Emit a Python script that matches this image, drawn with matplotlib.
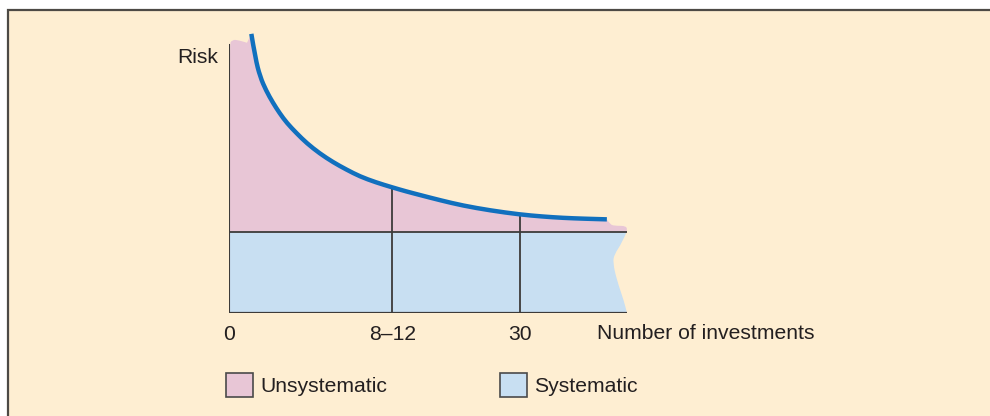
import matplotlib
matplotlib.use("Agg")
import matplotlib.pyplot as plt
from matplotlib.patches import Rectangle, PathPatch, Patch
from matplotlib.path import Path

plt.rcParams['font.family'] = ['Liberation Sans', 'DejaVu Sans']

# ---- data (schematic units: systematic risk level = 1) ----
tick_positions = [0.0, 4.09, 7.29]
tick_labels = ["0", "8\u201312", "30"]
x_label = "Number of investments"
y_label = "Risk"

systematic_level = 1.0
x_end = 9.97

# total-risk curve
curve_x = [0.56, 0.66, 0.78, 0.93, 1.10, 1.27, 1.45, 1.70, 1.95, 2.27, 2.61, 2.94,
           3.28, 3.68, 4.09, 4.44, 4.79, 5.30, 5.86, 6.55, 7.29, 7.85, 8.37, 8.90, 9.47]
curve_y = [3.44, 3.14, 2.91, 2.74, 2.59, 2.46, 2.34, 2.21, 2.09, 1.965, 1.855, 1.765,
           1.68, 1.607, 1.545, 1.495, 1.45, 1.385, 1.32, 1.26, 1.21, 1.185, 1.168, 1.158, 1.15]

# wavy top-left of the unsystematic area and tab after the curve end
pink_left_x = [0.0, 0.0, 0.08, 0.25, 0.45]
pink_left_y = [1.0, 3.30, 3.37, 3.36, 3.33]
pink_tail_x = [9.55, 9.65, 9.97, 9.97]
pink_tail_y = [1.09, 1.07, 1.07, 1.0]

# torn right edge of the systematic area
blue_edge_x = [9.97, 9.85, 9.66, 9.62, 9.72, 9.90, 9.97]
blue_edge_y = [1.0, 0.86, 0.72, 0.62, 0.40, 0.14, 0.0]

series_names = ["Unsystematic", "Systematic"]

# ---- style ----
CREAM = "#FEEED2"
PINK = "#E8C6D6"
BLUE = "#C8DFF2"
CURVE = "#1170BE"
LINE = "#3d3b3a"
TEXT = "#231f20"
FS = 15.2


def smooth(xs, ys, start=True):
    """Quadratic-Bezier path through midpoints (points act as control points)."""
    pts = list(zip(xs, ys))
    verts, codes = [pts[0]], [Path.MOVETO if start else Path.LINETO]
    for i in range(1, len(pts) - 1):
        mid = ((pts[i][0] + pts[i + 1][0]) / 2, (pts[i][1] + pts[i + 1][1]) / 2)
        verts += [pts[i], mid]
        codes += [Path.CURVE3, Path.CURVE3]
    verts.append(pts[-1]); codes.append(Path.LINETO)
    return verts, codes


W, H = 990, 416
fig = plt.figure(figsize=(W / 100, H / 100), dpi=100)
fig.patch.set_facecolor("white")

# background panel with top and left rule
bg = fig.add_axes([0, 0, 1, 1])
bg.set_xlim(0, W)
bg.set_ylim(H, 0)
bg.axis("off")
bg.add_patch(Rectangle((7.5, 10), W + 20, H + 20, facecolor=CREAM,
                       edgecolor="#4d4a45", lw=1.6, zorder=0))

# plotting axes: x 0..10 maps to px 229..628, y 0..3.8 with 81 px per unit
px0, py0 = 229, 312.5
ppu_x, ppu_y = 39.9, 81.0
xmax, ymax = 10.0, 3.8
ax = fig.add_axes([px0 / W, (H - py0) / H, xmax * ppu_x / W, ymax * ppu_y / H])
ax.set_xlim(0, xmax)
ax.set_ylim(0, ymax)
ax.patch.set_alpha(0)
for s in ax.spines.values():
    s.set_visible(False)

# systematic area
ve, ce = smooth(blue_edge_x, blue_edge_y, start=False)
v = [(0, 0), (0, systematic_level)] + ve + [(0, 0)]
c = [Path.MOVETO, Path.LINETO] + ce + [Path.CLOSEPOLY]
ax.add_patch(PathPatch(Path(v, c), facecolor=BLUE, edgecolor="none", zorder=1))

# unsystematic area
v1, c1 = smooth(pink_left_x, pink_left_y)
v2, c2 = smooth(curve_x, curve_y, start=False)
v3, c3 = smooth([curve_x[-1]] + pink_tail_x, [curve_y[-1]] + pink_tail_y, start=False)
v = v1 + v2 + v3 + [(0, systematic_level)]
c = c1 + c2 + c3 + [Path.CLOSEPOLY]
ax.add_patch(PathPatch(Path(v, c), facecolor=PINK, edgecolor="none", zorder=1))

# grid lines
ax.plot([0, x_end], [0, 0], color=LINE, lw=1.6, zorder=3, solid_capstyle="butt")
ax.plot([0, x_end], [systematic_level] * 2, color=LINE, lw=1.3, zorder=3, solid_capstyle="butt")
ax.plot([0, 0], [0, pink_left_y[1]], color=LINE, lw=1.5, zorder=3)
for xp in tick_positions[1:]:
    top = curve_y[curve_x.index(xp)]
    ax.plot([xp, xp], [0, top], color=LINE, lw=1.3, zorder=2)

# curve
cv, cc = smooth(curve_x, curve_y)
ax.add_patch(PathPatch(Path(cv, cc), facecolor="none", edgecolor=CURVE, lw=3.2,
                       zorder=4, capstyle="butt"))

# ticks
ax.set_xticks(tick_positions)
ax.set_xticklabels(tick_labels, fontsize=FS, color=TEXT)
ax.tick_params(axis="x", length=0, pad=9)
ax.set_yticks([])

ax.text(9.22, -26.5 / ppu_y, x_label, fontsize=FS, color=TEXT,
        ha="left", va="baseline")

ax.text(-0.27, 249.5 / ppu_y, y_label, fontsize=FS, color=TEXT,
        ha="right", va="baseline")

# legend
handles = [Patch(facecolor=PINK, edgecolor="#4a4a4a", lw=1.2),
           Patch(facecolor=BLUE, edgecolor="#4a4a4a", lw=1.2)]
leg = fig.legend(handles, series_names, loc="center left",
                 bbox_to_anchor=(226 / W, (H - 385) / H), ncol=2, frameon=False,
                 fontsize=FS, handlelength=1.3, handleheight=1.3,
                 handletextpad=0.35, columnspacing=5.3, borderpad=0, borderaxespad=0)
for t in leg.get_texts():
    t.set_color(TEXT)

fig.savefig("out.png", dpi=100, facecolor=fig.get_facecolor())
